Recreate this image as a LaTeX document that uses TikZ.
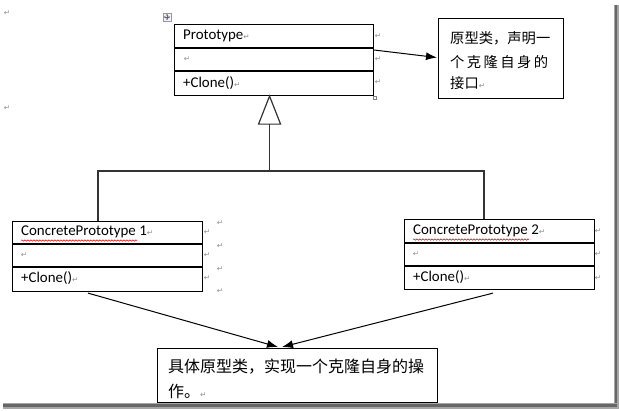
\documentclass[tikz,border=0pt]{standalone}
\usepackage{fontspec}
\setmainfont{Carlito}
\newfontfamily\cjk{Noto Sans CJK SC}
\newfontfamily\dvs{DejaVu Sans}
\usetikzlibrary{arrows.meta,calc,decorations.pathmorphing}
\newcommand\retmark{{\dvs\color{black!45}\fontsize{7.5}{8}\selectfont ↵}}
\tikzset{
  umlbox/.style={draw=black, line width=1.1pt, inner sep=0pt, anchor=north west},
  divider/.style={draw=black, line width=1.1pt},
  lbl/.style={anchor=west, inner sep=0pt, font=\fontsize{14.9}{17}\selectfont},
  notebox/.style={draw=black, line width=1.1pt, inner sep=0pt, anchor=north west, fill=white},
  cjkline/.style={anchor=west, inner sep=0pt},
  retm/.style={inner sep=0pt, font=\dvs\fontsize{7.5}{8}\selectfont, text=black!45},
  conn/.style={draw=black!80, line width=1.2pt},
  arr/.style={draw=black, line width=1pt, -{Latex[length=11pt,width=8pt]}},
  squig/.style={draw=red!80!black, line width=0.5pt, decorate, decoration={snake, segment length=3pt, amplitude=0.7pt}},
  shadowstrip/.style={fill=black!60, draw=none}
}
\begin{document}
\begin{tikzpicture}[x=1pt,y=-1pt]
\useasboundingbox (0,0) rectangle (619,410);
\fill[white] (0,0) rectangle (619,410);
% page shadow
\fill[black!35] (613.5,5) rectangle (618.5,408);
\fill[shadowstrip] (614.5,5) rectangle (617,407);
\fill[black!35] (3,402.5) rectangle (618.5,408.5);
\fill[shadowstrip] (3,403.5) rectangle (617,406.5);

% ---- Prototype class
\node[umlbox, minimum width=199pt, minimum height=71pt] (proto) at (174,24) {};
\draw[divider] ($(proto.north west)+(0,24)$) -- ($(proto.north east)+(0,24)$);
\draw[divider] ($(proto.north west)+(0,47)$) -- ($(proto.north east)+(0,47)$);
\node[lbl] (protoName) at (183,36) {Prototype\retmark};
\node[retm] (protoAttr) at (187,59) {↵};
\node[lbl] (protoOp) at (183,83) {+Clone()\retmark};
\node[retm] (pm1) at (378,36) {↵};
\node[retm] (pm2) at (378,59) {↵};
\node[retm] (pm3) at (378,82) {↵};
\node[draw=black!50, line width=0.4pt, minimum size=3pt, inner sep=0pt] (handle) at (374.5,97.5) {};
% move icon
\node[draw=black!40, fill=blue!6, line width=0.4pt, minimum size=8pt, inner sep=0pt] (moveicon) at (167,17) {};
\draw[black!60, line width=0.5pt, -{Stealth[length=1.5pt,width=2pt]}] (moveicon.center) -- ++(0,-3);
\draw[black!60, line width=0.5pt, -{Stealth[length=1.5pt,width=2pt]}] (moveicon.center) -- ++(0,3);
\draw[black!60, line width=0.5pt, -{Stealth[length=1.5pt,width=2pt]}] (moveicon.center) -- ++(-3,0);
\draw[black!60, line width=0.5pt, -{Stealth[length=1.5pt,width=2pt]}] (moveicon.center) -- ++(3,0);

% left margin marks
\node[retm] (lm1) at (7,13) {↵};
\node[retm] (lm2) at (7,108) {↵};

% ---- Note 1
\node[notebox, minimum width=125pt, minimum height=80pt] (note1) at (438,18) {};
\node[cjkline] (n1a) at (450,38) {\cjk\fontsize{14.3}{16}\selectfont\makebox[98pt][s]{原型类，声明一}};
\node[cjkline] (n1b) at (450,62) {\cjk\fontsize{14.3}{16}\selectfont\makebox[98pt][s]{个\hfill 克\hfill 隆\hfill 自\hfill 身\hfill 的}};
\node[cjkline] (n1c) at (450,83) {\cjk\fontsize{14.3}{16}\selectfont 接口\retmark};

\draw[arr] ($(proto.north east)+(0,26)$) -- ($(note1.west)+(-1,-1)$);

% ---- Concrete 1
\node[umlbox, minimum width=190pt, minimum height=70pt] (c1) at (12,221) {};
\draw[divider] ($(c1.north west)+(0,23)$) -- ($(c1.north east)+(0,23)$);
\draw[divider] ($(c1.north west)+(0,46)$) -- ($(c1.north east)+(0,46)$);
\node[lbl] (c1Name) at (21,232) {ConcretePrototype 1\retmark};
\draw[squig] (21,240.5) -- (137,240.5);
\node[retm] (c1Attr) at (24,255) {↵};
\node[lbl] (c1Op) at (21,278) {+Clone()\retmark};
\node[retm] (c1m1) at (207,232) {↵};
\node[retm] (c1m2) at (207,255) {↵};
\node[retm] (c1m3) at (207,278) {↵};
\node[retm] (c1m4) at (220,223) {↵};
\node[retm] (c1m5) at (220,246) {↵};
\node[retm] (c1m6) at (220,269) {↵};
\node[retm] (c1m7) at (220,291) {↵};

% ---- Concrete 2
\node[umlbox, minimum width=190pt, minimum height=70pt] (c2) at (404,219) {};
\draw[divider] ($(c2.north west)+(0,24)$) -- ($(c2.north east)+(0,24)$);
\draw[divider] ($(c2.north west)+(0,47)$) -- ($(c2.north east)+(0,47)$);
\node[lbl] (c2Name) at (413,231) {ConcretePrototype 2\retmark};
\draw[squig] (413,239.5) -- (529,239.5);
\node[retm] (c2Attr) at (416,254) {↵};
\node[lbl] (c2Op) at (413,277) {+Clone()\retmark};
\node[retm] (c2m1) at (598,231) {↵};
\node[retm] (c2m2) at (598,254) {↵};
\node[retm] (c2m3) at (598,278) {↵};

% ---- Inheritance
\coordinate (apex) at ($(proto.south)+(-4.5,0)$);
\coordinate (tl) at ($(apex)+(-11,28)$);
\coordinate (tr) at ($(apex)+(11,28)$);
\coordinate (tb) at ($(apex)+(0,28)$);
\coordinate (bus) at ($(tb)+(0,48)$);
\draw[conn, line join=miter] (apex) -- (tl) -- (tr) -- cycle;
\draw[conn] (tb) -- (bus);
\draw[conn] (c1.north -| 98,0) -- (98,171) -- (484,171) -- (c2.north -| 484,0);

% ---- Note 2
\node[notebox, minimum width=280pt, minimum height=54pt] (note2) at (157,348) {};
\node[cjkline] (n2a) at (168,367) {\cjk\fontsize{16}{18}\selectfont\makebox[257pt][s]{具体原型类，实现一个克隆自身的操}};
\node[cjkline] (n2b) at (168,391) {\cjk\fontsize{16}{18}\selectfont 作。\retmark};

\draw[arr] ($(c1.south west)+(76,1)$) -- ($(note2.north west)+(121,-1)$);
\draw[arr] ($(c2.south west)+(89,3)$) -- ($(note2.north west)+(125,-1)$);
\end{tikzpicture}
\end{document}
